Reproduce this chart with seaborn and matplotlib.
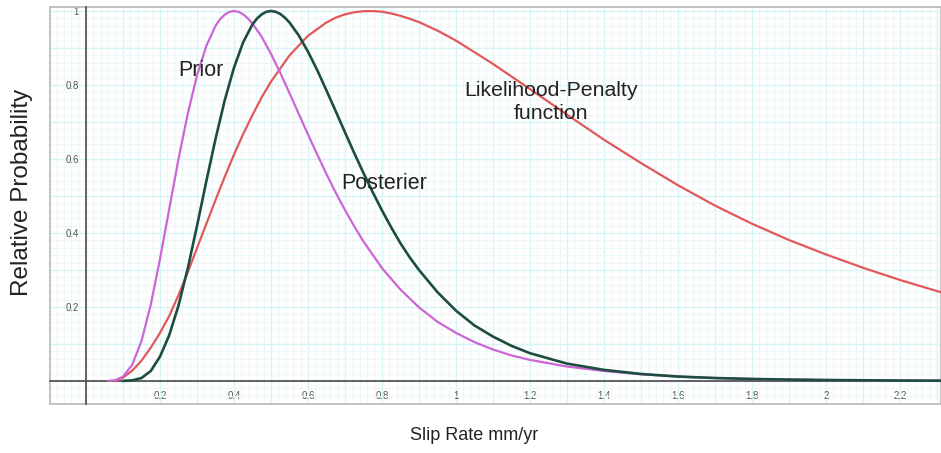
import matplotlib
matplotlib.use("Agg")
import matplotlib.pyplot as plt
from matplotlib.ticker import MultipleLocator, FuncFormatter
from matplotlib.patches import Rectangle
import seaborn as sns
import pandas as pd

# ---- data ----
prior_x = [0.06, 0.08, 0.10, 0.125, 0.15, 0.175, 0.20, 0.225, 0.25, 0.275, 0.30, 0.325, 0.35, 0.3625, 0.375,
           0.3875, 0.40, 0.4125, 0.425, 0.4375, 0.45, 0.475, 0.50, 0.525, 0.55, 0.575, 0.60, 0.625, 0.65, 0.675,
           0.70, 0.725, 0.75, 0.80, 0.85, 0.90, 0.95, 1.00, 1.05, 1.10, 1.15, 1.20, 1.30, 1.40, 1.50, 1.60,
           1.70, 1.80, 1.90, 2.00, 2.20, 2.31]
prior_y = [0.0002, 0.0025, 0.0117, 0.044, 0.108, 0.206, 0.330, 0.465, 0.600, 0.722, 0.826, 0.905, 0.960, 0.978, 0.990,
           0.9977, 1.000, 0.9977, 0.991, 0.980, 0.966, 0.930, 0.884, 0.833, 0.778, 0.722, 0.666, 0.612, 0.559, 0.509,
           0.462, 0.418, 0.377, 0.305, 0.247, 0.199, 0.160, 0.130, 0.105, 0.085, 0.069, 0.057, 0.039, 0.027, 0.018, 0.012,
           0.008, 0.0055, 0.0038, 0.0026, 0.0012, 0.0008]

post_x = [0.10, 0.125, 0.15, 0.175, 0.20, 0.225, 0.25, 0.275, 0.30, 0.325, 0.35, 0.375, 0.40, 0.425,
          0.45, 0.4625, 0.475, 0.4875, 0.50, 0.5125, 0.525, 0.5375, 0.55, 0.575, 0.60, 0.625, 0.65, 0.675,
          0.70, 0.725, 0.75, 0.775, 0.80, 0.825, 0.85, 0.875, 0.90, 0.95, 1.00, 1.05, 1.10, 1.15, 1.20,
          1.30, 1.40, 1.50, 1.60, 1.70, 1.80, 1.90, 2.00, 2.20, 2.31]
post_y = [0.0002, 0.0016, 0.008, 0.027, 0.066, 0.124, 0.204, 0.304, 0.419, 0.539, 0.654, 0.759, 0.847, 0.916,
          0.964, 0.980, 0.991, 0.9979, 1.000, 0.9979, 0.992, 0.982, 0.969, 0.934, 0.890, 0.840, 0.785, 0.729,
          0.672, 0.616, 0.562, 0.510, 0.461, 0.415, 0.372, 0.334, 0.300, 0.240, 0.190, 0.150, 0.120, 0.095, 0.075,
          0.047, 0.030, 0.019, 0.012, 0.008, 0.0055, 0.0038, 0.0026, 0.0012, 0.0008]

like_x = [0.08, 0.10, 0.125, 0.15, 0.175, 0.20, 0.225, 0.25, 0.275, 0.30, 0.325, 0.35, 0.375, 0.40,
          0.425, 0.45, 0.475, 0.50, 0.55, 0.60, 0.65, 0.675, 0.70, 0.725, 0.75, 0.775, 0.80, 0.825,
          0.85, 0.875, 0.90, 0.95, 1.00, 1.10, 1.20, 1.30, 1.40, 1.50, 1.60, 1.70, 1.80, 1.90, 2.00,
          2.10, 2.20, 2.31]
like_y = [0.0, 0.009, 0.028, 0.055, 0.090, 0.130, 0.176, 0.232, 0.294, 0.359, 0.424, 0.489, 0.552, 0.612,
          0.668, 0.719, 0.767, 0.809, 0.880, 0.933, 0.969, 0.982, 0.991, 0.9966, 0.9995, 0.9998, 0.998, 0.9934,
          0.987, 0.979, 0.970, 0.947, 0.920, 0.857, 0.789, 0.720, 0.652, 0.589, 0.529, 0.474, 0.425, 0.381, 0.342,
          0.306, 0.273, 0.240]

series_names = ["Prior", "Posterier", "Likelihood-Penalty\nfunction"]
x_label = "Slip Rate mm/yr"
y_label = "Relative Probability"

# ---- style ----
sns.set_style("white")
plt.rcParams["font.family"] = ["Liberation Sans", "DejaVu Sans"]

W, H = 941, 453
fig = plt.figure(figsize=(W / 100, H / 100), dpi=100)
ax = fig.add_axes([50 / W, 1 - 404 / H, 891 / W, 397 / H])

df_prior = pd.DataFrame({"x": prior_x, "y": prior_y})
df_post = pd.DataFrame({"x": post_x, "y": post_y})
df_like = pd.DataFrame({"x": like_x, "y": like_y})

sns.lineplot(data=df_like, x="x", y="y", color="#e0585a", linewidth=1.6, ax=ax, zorder=3)
sns.lineplot(data=df_prior, x="x", y="y", color="#cc66d6", linewidth=1.6, ax=ax, zorder=4)
sns.lineplot(data=df_post, x="x", y="y", color="#1d4d40", linewidth=1.9, ax=ax, zorder=5)
for ln in ax.get_lines():
    ln.set_solid_joinstyle("round")
    ln.set_solid_capstyle("round")

ax.set_xlim(-0.0973, 2.3108)
ax.set_ylim(-0.0622, 1.0108)
ax.set_xlabel("")
ax.set_ylabel("")

# axes through origin
for side in ("left", "bottom"):
    ax.spines[side].set_position(("data", 0))
    ax.spines[side].set_color("#555555")
    ax.spines[side].set_linewidth(1.3)
    ax.spines[side].set_zorder(2)
for side in ("top", "right"):
    ax.spines[side].set_visible(False)

frame = Rectangle((0, 0), 1, 1, transform=ax.transAxes, fill=False,
                  edgecolor="#b8b8b8", linewidth=1.2, clip_on=False, zorder=1)
ax.add_patch(frame)

def fmt(v, pos):
    r = round(v, 1)
    k = int(round(r * 10))
    if k == 0 or k % 2 != 0:
        return ""
    return "%g" % r

for axis in (ax.xaxis, ax.yaxis):
    axis.set_major_locator(MultipleLocator(0.1))
    axis.set_minor_locator(MultipleLocator(0.02))
    axis.set_major_formatter(FuncFormatter(fmt))

ax.tick_params(which="major", direction="inout", length=8, width=1.2, color="#555555",
               labelsize=7, labelcolor="#555555")
ax.tick_params(axis="x", which="major", pad=3)
ax.tick_params(axis="y", which="major", pad=1)
ax.tick_params(which="minor", length=0)

ax.set_axisbelow(True)
ax.grid(which="minor", color="#edf9f9", linewidth=0.8)
ax.grid(which="major", color="#d8f3f3", linewidth=1.0)

# annotations
ax.text(0.31, 0.84, series_names[0], fontsize=15.5, color="#222222", ha="center", va="center", zorder=6)
ax.text(0.805, 0.535, series_names[1], fontsize=15.5, color="#222222", ha="center", va="center", zorder=6)
ax.text(1.257, 0.755, series_names[2], fontsize=15.3, color="#222222", ha="center", va="center",
        linespacing=1.25, zorder=6)

fig.text(474 / W, 1 - 436 / H, x_label, fontsize=13, color="#222222", ha="center", va="center")
fig.text(22 / W, 1 - 192 / H, y_label, fontsize=17.5, color="#222222", ha="center", va="center",
         rotation=90)

fig.savefig("out.png", dpi=100)
